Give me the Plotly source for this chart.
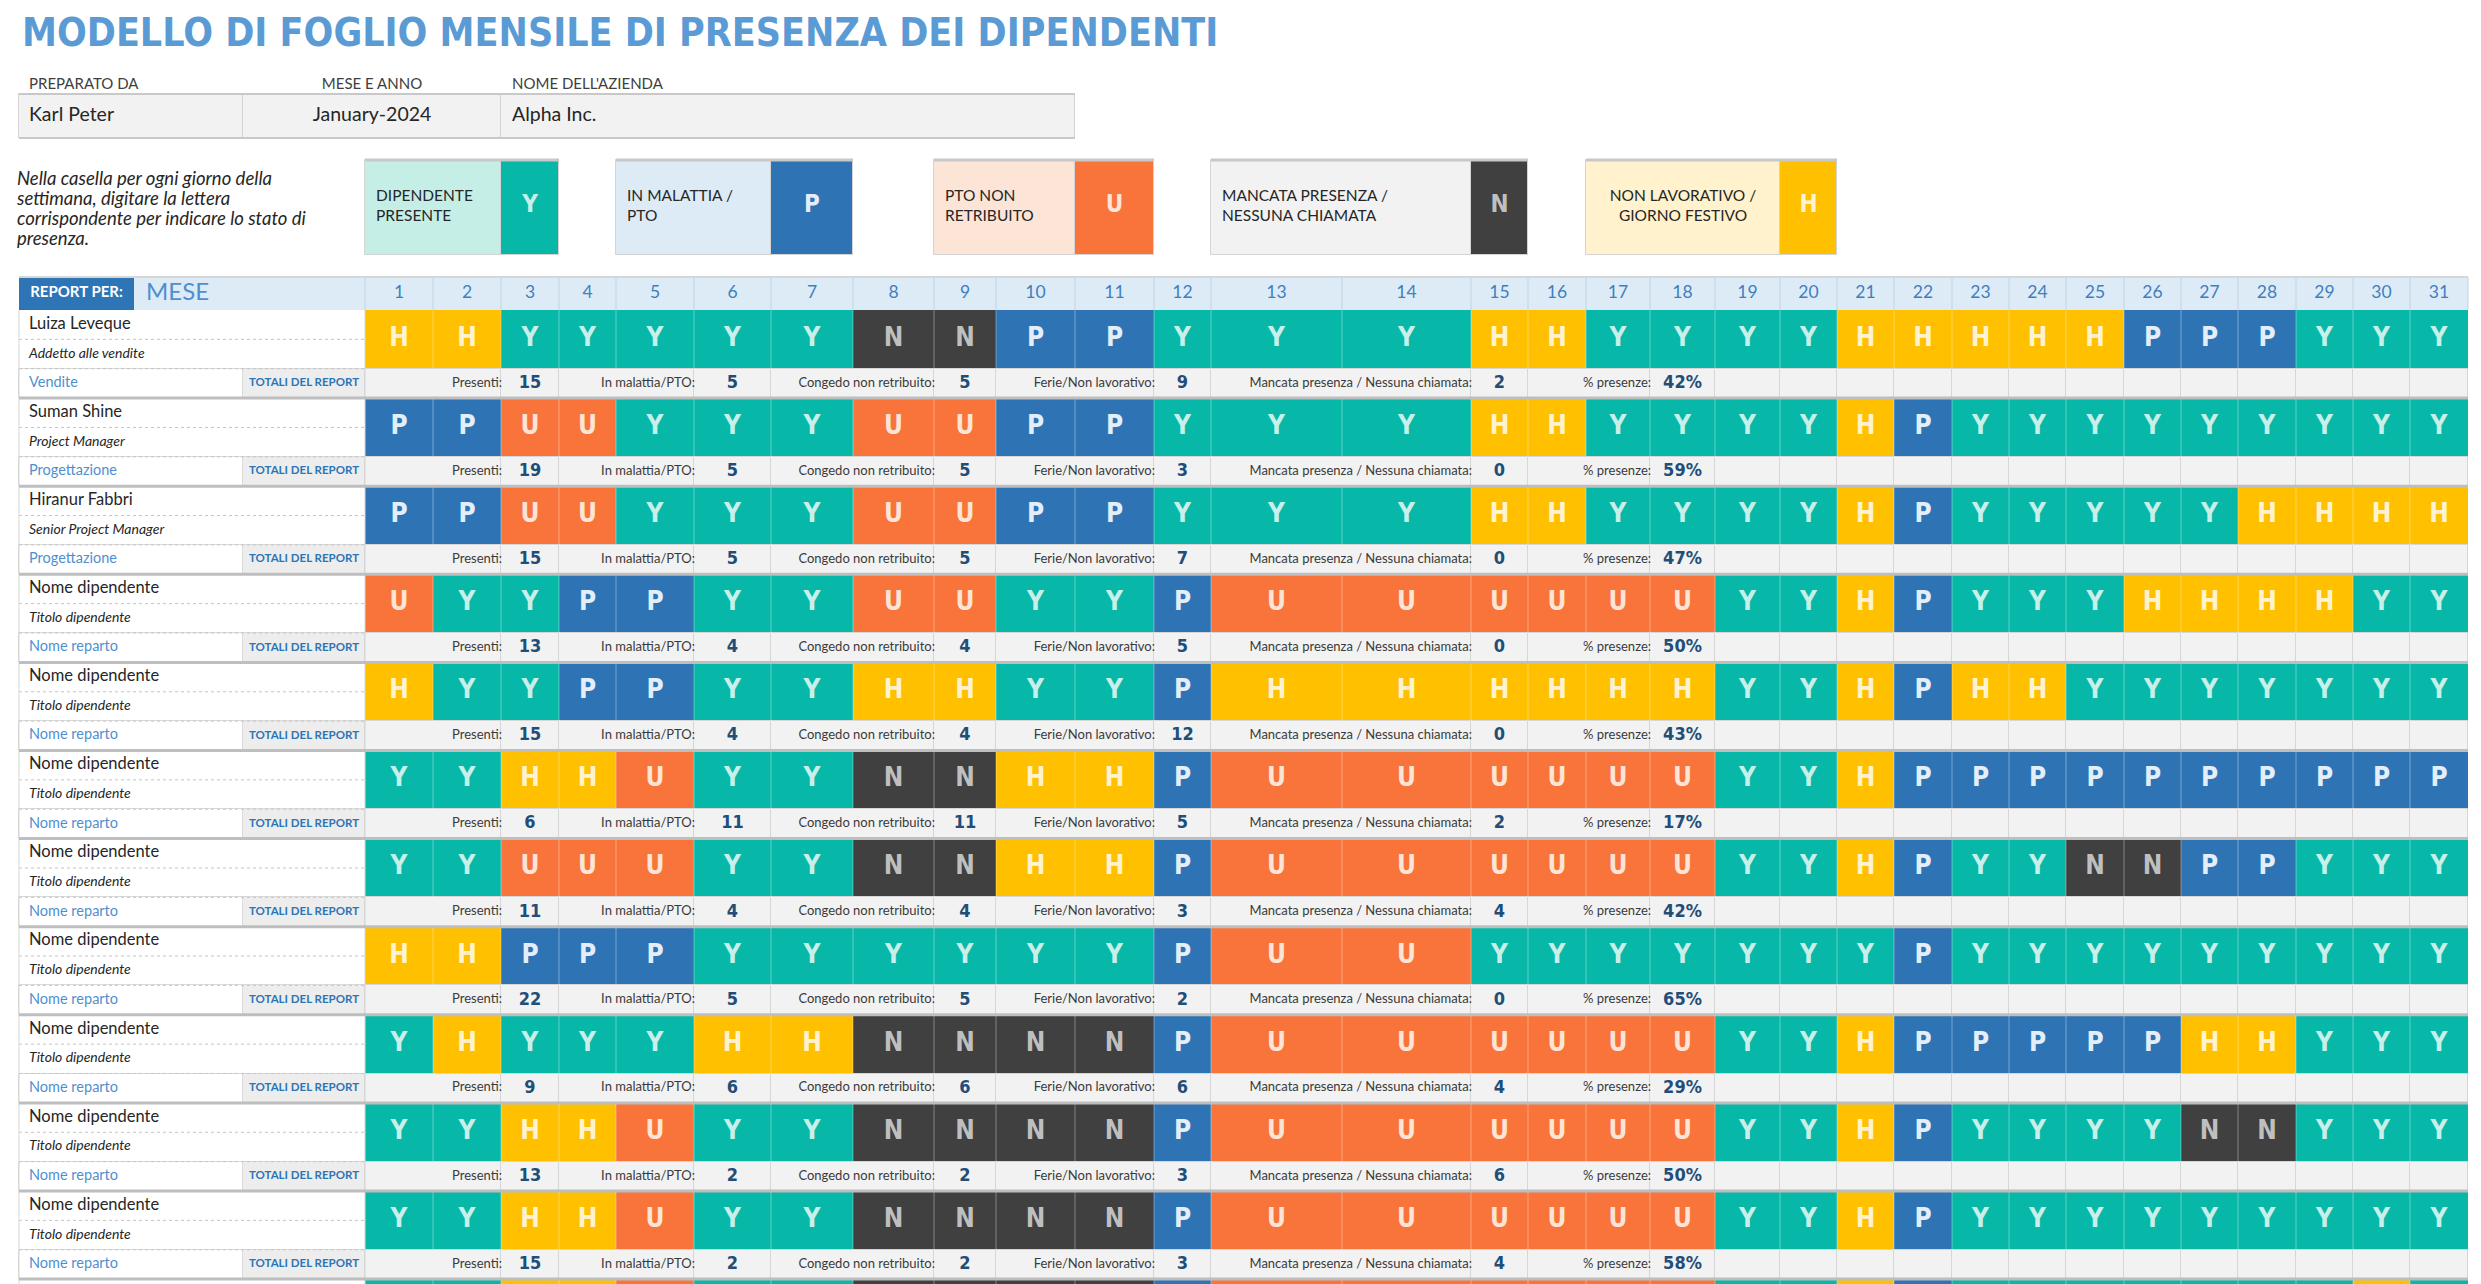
import plotly.graph_objects as go

# ---------------- DATA ----------------
TITLE = "MODELLO DI FOGLIO MENSILE DI PRESENZA DEI DIPENDENTI"
INFO_LABELS = ["PREPARATO DA", "MESE E ANNO", "NOME DELL'AZIENDA"]
INFO_VALUES = ["Karl Peter", "January-2024", "Alpha Inc."]
INSTRUCTION = ["Nella casella per ogni giorno della", "settimana, digitare la lettera",
               "corrispondente per indicare lo stato di", "presenza."]
LEGEND_CODES = ["Y", "P", "U", "N", "H"]
LEGEND_LABELS = ["DIPENDENTE<br>PRESENTE", "IN MALATTIA /<br>PTO", "PTO NON<br>RETRIBUITO",
                 "MANCATA PRESENZA /<br>NESSUNA CHIAMATA", "NON LAVORATIVO /<br>GIORNO FESTIVO"]
REPORT_BY = "REPORT PER:"
PERIOD = "MESE"
DAYS = [str(d) for d in range(1, 32)]
EMP_NAMES = ["Luiza Leveque", "Suman Shine", "Hiranur Fabbri"] + ["Nome dipendente"] * 8
EMP_TITLES = ["Addetto alle vendite", "Project Manager", "Senior Project Manager"] + ["Titolo dipendente"] * 8
EMP_DEPTS = ["Vendite", "Progettazione", "Progettazione"] + ["Nome reparto"] * 8
ATTENDANCE = [
    "HHYYYYYNNPPYYYHHYYYYHHHHHPPPYYY",
    "PPUUYYYUUPPYYYHHYYYYHPYYYYYYYYY",
    "PPUUYYYUUPPYYYHHYYYYHPYYYYYHHHH",
    "UYYPPYYUUYYPUUUUUUYYHPYYYHHHHYY",
    "HYYPPYYHHYYPHHHHHHYYHPHHYYYYYYY",
    "YYHHUYYNNHHPUUUUUUYYHPPPPPPPPPP",
    "YYUUUYYNNHHPUUUUUUYYHPYYNNPPYYY",
    "HHPPPYYYYYYPUUYYYYYYYPYYYYYYYYY",
    "YHYYYHHNNNNPUUUUUUYYHPPPPPHHYYY",
    "YYHHUYYNNNNPUUUUUUYYHPYYYYNNYYY",
    "YYHHUYYNNNNPUUUUUUYYHPYYYYYYYYY",
    "YYHHUYYNNNNPUUUUUUYYHPYYYYYYYHY",   # next row, only its top edge is visible
]
TOT_LABELS = ["Presenti:", "In malattia/PTO:", "Congedo non retribuito:", "Ferie/Non lavorativo:",
              "Mancata presenza / Nessuna chiamata:", "% presenze:"]
TOT_PRESENT = [15, 19, 15, 13, 15, 6, 11, 22, 9, 13, 15]
TOT_SICK = [5, 5, 5, 4, 4, 11, 4, 5, 6, 2, 2]
TOT_UNPAID = [5, 5, 5, 4, 4, 11, 4, 5, 6, 2, 2]
TOT_HOLIDAY = [9, 3, 7, 5, 12, 5, 3, 2, 6, 3, 3]
TOT_NOSHOW = [2, 0, 0, 0, 0, 2, 4, 0, 4, 6, 4]
TOT_PCT = ["42%", "59%", "47%", "50%", "43%", "17%", "42%", "65%", "29%", "50%", "58%"]
TOTALS_TAG = "TOTALI DEL REPORT"

# ---------------- STYLE / GEOMETRY ----------------
W, H = 2481, 1284
COL_EDGES = [365, 433, 501, 559, 616, 694, 771, 853, 934, 996, 1075, 1154, 1211, 1342, 1471, 1528,
             1586, 1650, 1715, 1780, 1837, 1894, 1952, 2009, 2066, 2124, 2181, 2238, 2296, 2353, 2410, 2468]
LEFT, SPLIT, REPORT_SPLIT = 19, 243, 134
HDR_TOP, ROW_TOP0, PITCH, CELL_H = 277, 310, 88.1, 58.7
TOT_H = PITCH - CELL_H
BODY = "Lato, Open Sans, sans-serif"
NARROW = "DejaVu Sans Condensed, Lato, sans-serif"
STRONG = {"Y": "#07B8A8", "P": "#2E74B5", "U": "#F8743B", "N": "#404040", "H": "#FFC000"}
LIGHT = {"Y": "#C5EEE7", "P": "#DDEBF7", "U": "#FCE4D6", "N": "#F2F2F2", "H": "#FFF2CC"}
LETTER = {"Y": "#C8F0E9", "P": "#E3EEF9", "U": "#FCE4D6", "N": "#BFBFBF", "H": "#FFF3CF"}
LEGEND_SPAN = [(0, 1, 2), (4, 5, 6), (8, 9, 10), (12, 13, 14), (16, 18, 19)]
LEGEND_ALIGN = ["left", "left", "left", "left", "center"]
LEG_TOP, LEG_BOT = 160, 255
TOT_GROUPS = [(0, 1, 2), (3, 4, 5), (6, 7, 8), (9, 10, 11), (12, 13, 14), (15, 16, 17)]

fig = go.Figure()


def add_rects(cells, fill, line_color="rgba(0,0,0,0)", line_width=0):
    fig.add_trace(go.Bar(
        x=[(c[0] + c[1]) / 2 for c in cells], width=[c[1] - c[0] for c in cells],
        base=[c[2] for c in cells], y=[c[3] - c[2] for c in cells],
        marker=dict(color=fill, line=dict(color=line_color, width=line_width)),
        hoverinfo="skip", showlegend=False))


def add_lines(segs, color, width, dash="solid"):
    xs, ys = [], []
    for x0, y0, x1, y1 in segs:
        xs += [x0, x1, None]
        ys += [y0, y1, None]
    fig.add_trace(go.Scatter(x=xs, y=ys, mode="lines", line=dict(color=color, width=width, dash=dash),
                             hoverinfo="skip", showlegend=False))


def add_text(xs, ys, labels, pos, size, color, family=BODY, weight="normal", style="normal"):
    fig.add_trace(go.Scatter(x=xs, y=ys, text=labels, mode="text", textposition=pos,
                             textfont=dict(size=size, color=color, family=family, weight=weight, style=style),
                             hoverinfo="skip", showlegend=False))


def cx(i):
    return (COL_EDGES[i] + COL_EDGES[i + 1]) / 2


# ---- info box ----
info_cells = [(LEFT, SPLIT, 94, 138), (SPLIT, COL_EDGES[2], 94, 138), (COL_EDGES[2], COL_EDGES[10], 94, 138)]
add_rects(info_cells, "#F2F2F2", "#D4D4D4", 1)
add_lines([(LEFT, 94, COL_EDGES[10], 94), (LEFT, 138, COL_EDGES[10], 138)], "#C8C8C8", 2)
add_text([29, (SPLIT + COL_EDGES[2]) / 2, 512], [85] * 3, INFO_LABELS,
         ["middle right", "middle center", "middle right"], 15, "#404040")
add_text([29, (SPLIT + COL_EDGES[2]) / 2, 512], [116] * 3, INFO_VALUES,
         ["middle right", "middle center", "middle right"], 19.5, "#262626")

# ---- instruction ----
add_text([17] * len(INSTRUCTION), [180 + 20 * i for i in range(len(INSTRUCTION))], INSTRUCTION,
         "middle right", 18.5, "#262626", style="italic")

# ---- legend ----
for code, label, (a, b, c), al in zip(LEGEND_CODES, LEGEND_LABELS, LEGEND_SPAN, LEGEND_ALIGN):
    add_rects([(COL_EDGES[a], COL_EDGES[b + 1], LEG_TOP, LEG_BOT)], LIGHT[code], "#D4D4D4", 1)
    add_rects([(COL_EDGES[c], COL_EDGES[c + 1], LEG_TOP, LEG_BOT)], STRONG[code], "#D4D4D4", 1)
    add_lines([(COL_EDGES[a], LEG_TOP, COL_EDGES[c + 1], LEG_TOP)], "#C8C8C8", 3)
    if al == "left":
        add_text([COL_EDGES[a] + 11], [(LEG_TOP + LEG_BOT) / 2], [label], "middle right", 15.5, "#262626")
    else:
        add_text([(COL_EDGES[a] + COL_EDGES[b + 1]) / 2], [(LEG_TOP + LEG_BOT) / 2], [label],
                 "middle center", 15.5, "#262626")
    add_text([cx(c)], [(LEG_TOP + LEG_BOT) / 2 - 2], [code], "middle center", 24, LETTER[code],
             family=NARROW, weight="bold")

# ---- header row ----
add_rects([(LEFT, REPORT_SPLIT, HDR_TOP, ROW_TOP0)], "#2E75B6")
add_rects([(REPORT_SPLIT, COL_EDGES[-1], HDR_TOP, ROW_TOP0)], "#DDEBF7")
add_lines([(x, HDR_TOP, x, ROW_TOP0) for x in COL_EDGES], "#C3D3E4", 1)
add_lines([(LEFT, HDR_TOP, COL_EDGES[-1], HDR_TOP)], "#D6D6D6", 2)
add_text([(LEFT + REPORT_SPLIT) / 2], [(HDR_TOP + ROW_TOP0) / 2], [REPORT_BY], "middle center", 15,
         "#FFFFFF", weight="bold")
add_text([146], [(HDR_TOP + ROW_TOP0) / 2], [PERIOD], "middle right", 24, "#4F8FD0")
add_text([cx(i) for i in range(31)], [(HDR_TOP + ROW_TOP0) / 2] * 31, DAYS, "middle center", 17.5, "#3F7FC0")

# ---- attendance grid (heatmap with brick edges) ----
code_index = {c: i for i, c in enumerate(LEGEND_CODES)}
z, y_edges = [], []
for k, row in enumerate(ATTENDANCE):
    top = ROW_TOP0 + k * PITCH
    if k > 0:
        z.append([None] * 31)
    z.append([code_index[ch] for ch in row])
    y_edges += [top, top + CELL_H]
n = len(LEGEND_CODES)
cs = []
for i, code in enumerate(LEGEND_CODES):
    cs.append([i / n, STRONG[code]])
    cs.append([(i + 1) / n, STRONG[code]])
fig.add_trace(go.Heatmap(x=COL_EDGES, y=y_edges, z=z, zmin=-0.5, zmax=n - 0.5, colorscale=cs,
                         showscale=False, hoverinfo="skip"))
grid = []
for k in range(len(ATTENDANCE)):
    top = ROW_TOP0 + k * PITCH
    grid += [(x, top, x, top + CELL_H) for x in COL_EDGES[1:-1]]
add_lines(grid, "rgba(255,255,255,0.35)", 1)

nt = len(TOT_PRESENT)
lx, ly, lt, lc = [], [], [], []
for k, row in enumerate(ATTENDANCE[:nt]):
    top = ROW_TOP0 + k * PITCH
    for i, ch in enumerate(row):
        lx.append(cx(i)); ly.append(top + CELL_H / 2); lt.append(ch); lc.append(LETTER[ch])
add_text(lx, ly, lt, "middle center", 26, lc, family=NARROW, weight="bold")

# ---- label column + totals rows ----
tot_cells, tag_cells, white_cells = [], [], []
dotted, seps = [], []
for k in range(nt):
    top = ROW_TOP0 + k * PITCH
    y0, y1 = top + CELL_H, top + PITCH
    white_cells.append((LEFT, SPLIT, y0, y1))
    tag_cells.append((SPLIT, COL_EDGES[0], y0, y1))
    for a, b, c in TOT_GROUPS:
        tot_cells.append((COL_EDGES[a], COL_EDGES[b + 1], y0, y1))
        tot_cells.append((COL_EDGES[c], COL_EDGES[c + 1], y0, y1))
    for i in range(TOT_GROUPS[-1][2] + 1, 31):
        tot_cells.append((COL_EDGES[i], COL_EDGES[i + 1], y0, y1))
for k in range(len(ATTENDANCE)):
    top = ROW_TOP0 + k * PITCH
    dotted += [(LEFT, top + CELL_H / 2, COL_EDGES[0], top + CELL_H / 2),
               (LEFT, top + CELL_H, COL_EDGES[0], top + CELL_H)]
    if k > 0:
        seps.append((LEFT, top, COL_EDGES[-1], top))
add_rects(white_cells, "#FFFFFF", "#DADADA", 1)
add_rects(tag_cells, "#EDEDED", "#DADADA", 1)
add_rects(tot_cells, "#F2F2F2", "#D6D6D6", 1)
add_lines(dotted, "#C4C4C4", 1, "dot")
add_lines([(LEFT, ROW_TOP0, LEFT, H), (COL_EDGES[0], ROW_TOP0, COL_EDGES[0], H)], "#D6D6D6", 1)
add_lines(seps, "#BEBEBE", 3)

name_y = [ROW_TOP0 + k * PITCH + CELL_H / 4 for k in range(nt)]
title_y = [ROW_TOP0 + k * PITCH + 3 * CELL_H / 4 for k in range(nt)]
tot_y = [ROW_TOP0 + k * PITCH + CELL_H + TOT_H / 2 for k in range(nt)]
add_text([29] * nt, name_y, EMP_NAMES, "middle right", 16.5, "#262626")
add_text([29] * nt, title_y, EMP_TITLES, "middle right", 14, "#262626", style="italic")
add_text([29] * nt, tot_y, EMP_DEPTS, "middle right", 14.5, "#4F8FD0")
add_text([(SPLIT + COL_EDGES[0]) / 2] * nt, tot_y, [TOTALS_TAG] * nt, "middle center", 11.5, "#2E75B6",
         weight="bold")

values = [TOT_PRESENT, TOT_SICK, TOT_UNPAID, TOT_HOLIDAY, TOT_NOSHOW, TOT_PCT]
for (a, b, c), label, vals in zip(TOT_GROUPS, TOT_LABELS, values):
    add_text([COL_EDGES[b + 1] + 1] * nt, tot_y, [label] * nt, "middle left", 13, "#3A3A3A")
    add_text([cx(c)] * nt, tot_y, [str(v) for v in vals], "middle center", 18, "#1F4E79",
             family=NARROW, weight="bold")

# ---- title ----
fig.add_annotation(x=20, y=32, xref="x", yref="y", text=TITLE, showarrow=False, xanchor="left",
                   yanchor="middle", font=dict(size=39, color="#5B9BD5", family=NARROW, weight="bold"))

fig.update_layout(
    width=W, height=H, margin=dict(l=0, r=0, t=0, b=0),
    paper_bgcolor="#FFFFFF", plot_bgcolor="#FFFFFF",
    barmode="overlay", bargap=0, showlegend=False,
    xaxis=dict(range=[0, W], visible=False, fixedrange=True),
    yaxis=dict(range=[H, 0], visible=False, fixedrange=True),
)
fig.write_html("out.html", config={"displayModeBar": False},
               post_script="document.body.style.margin='0';document.body.style.overflow='hidden';")
